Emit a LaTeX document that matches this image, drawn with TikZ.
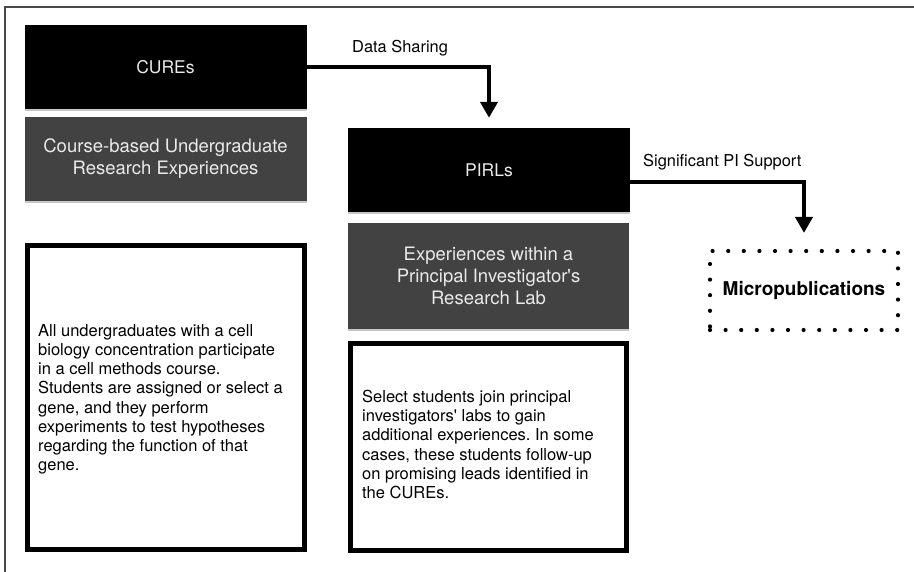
\documentclass[tikz,border=0pt]{standalone}
\usepackage{fontspec}
\setmainfont{TeX Gyre Heros}
\usetikzlibrary{arrows.meta,shadows,calc}
\frenchspacing

\definecolor{panelgray}{HTML}{424242}
\definecolor{framegray}{HTML}{4A4A4A}
\definecolor{lighttext}{HTML}{EAEAEA}

\tikzset{
  softshadow/.style={drop shadow={shadow xshift=0.4pt, shadow yshift=-1.6pt, fill=black, opacity=0.22}},
  titlebox/.style={rectangle, fill=black, text=lighttext, inner sep=0pt,
    minimum width=282pt, minimum height=84pt, softshadow,
    font=\fontsize{17.5}{21}\selectfont},
  subbox/.style={rectangle, fill=panelgray, text=lighttext, inner sep=0pt,
    align=center, softshadow, font=\fontsize{18.5}{21.8}\selectfont},
  descbox/.style={rectangle, draw=black, line width=5pt, fill=white, inner sep=0pt, softshadow},
  desctext/.style={anchor=north west, inner sep=0pt, align=left,
    font=\fontsize{16.5}{19.2}\selectfont},
  flow/.style={line width=4pt, -{Triangle[width=17pt,length=16pt]}},
  flowlabel/.style={anchor=base west, inner sep=0pt, font=\fontsize{16.4}{20}\selectfont},
  dotbox/.style={rectangle, draw=black, line width=4.2pt, line cap=round,
    dash pattern=on 0pt off 15.6pt, inner sep=0pt,
    font=\bfseries\fontsize{19}{22}\selectfont}
}

\begin{document}
\begin{tikzpicture}[x=1pt,y=-1pt]
  \useasboundingbox (0,0) rectangle (914,572);
  \fill[white] (0,0) rectangle (914,572);

  % outer frame (top and left edges only)
  \draw[framegray, line width=1.6pt] (5,572) -- (5,7) -- (914,7);

  % left column: CUREs
  \node[titlebox] (cures) at (165.5,67) {CUREs};
  \node[subbox, minimum width=282pt, minimum height=84pt] (curesub) at (165.5,159)
    {Course-based Undergraduate\\Research Experiences};
  \node[descbox, minimum width=277pt, minimum height=304pt] (curedesc) at (166,397.5) {};
  \node[desctext] (curetext) at (38,324)
    {All undergraduates with a cell\\
     biology concentration participate\\
     in a cell methods course.\\
     Students are assigned or select a\\
     gene, and they perform\\
     experiments to test hypotheses\\
     regarding the function of that\\
     gene.};

  % middle column: PIRLs
  \node[titlebox] (pirls) at (489,170) {PIRLs};
  \node[subbox, minimum width=281pt, minimum height=106pt] (pirlsub) at (488.5,276)
    {Experiences within a\\Principal Investigator\textquotesingle s\\Research Lab};
  \node[descbox, minimum width=276pt, minimum height=207pt] (pirldesc) at (488.5,447) {};
  \node[desctext] (pirltext) at (362,390)
    {Select students join principal\\
     investigators\textquotesingle\ labs to gain\\
     additional experiences. In some\\
     cases, these students follow-up\\
     on promising leads identified in\\
     the CUREs.};

  % outcome
  \node[dotbox, minimum width=188pt, minimum height=79pt] (micro) at (804,290.5)
    {Micropublications};

  % connectors
  \draw[flow, shorten >=10pt] (cures.east) -| (pirls.north);
  \node[flowlabel] (datalabel) at (352,53) {Data Sharing};

  \coordinate (pisupport) at ($(pirls.east)+(0,12)$);
  \draw[flow, shorten >=16pt] (pisupport) -| (micro.north);
  \node[flowlabel] (pilabel) at (643,167) {Significant PI Support};
\end{tikzpicture}
\end{document}
